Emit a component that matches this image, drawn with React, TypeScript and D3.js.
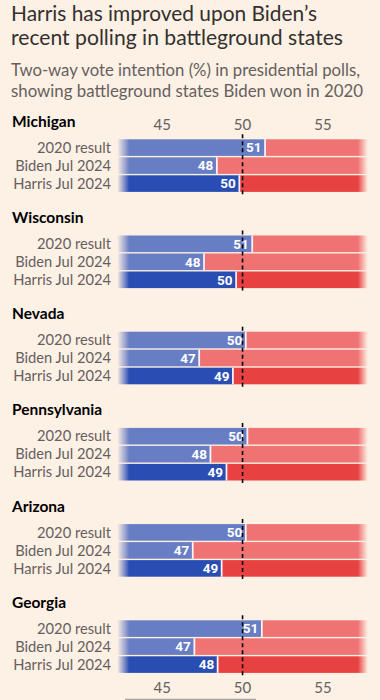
import React from "react";
import * as d3 from "d3";

const states = ["Michigan", "Wisconsin", "Nevada", "Pennsylvania", "Arizona", "Georgia"];
const rowLabels = ["2020 result", "Biden Jul 2024", "Harris Jul 2024"];
const result2020 = [51.4, 50.6, 50.2, 50.3, 50.2, 51.2];
const bidenJul = [48.4, 47.6, 47.3, 48.0, 46.9, 47.0];
const harrisJul = [49.8, 49.6, 49.4, 49.0, 48.7, 48.45];
const tickValues = [45, 50, 55];
const domain = [42.2, 57.8];

const W = 380;
const H = 700;

export default function App() {
  const x = d3.scaleLinear().domain([45, 55]).range([162.2, 322.9]);
  const x0 = x(domain[0]);
  const x1 = x(domain[1]);
  const panelY = d3.scaleLinear().domain([0, 1]).range([139.3, 235.5]);
  const rowH = 18;
  const barH = 16.6;
  const series = [result2020, bidenJul, harrisJul];
  const blue = ["#687ec4", "#687ec4", "#2a4db3"];
  const red = ["#f07373", "#f07373", "#e84141"];
  const font = "Lato, sans-serif";
  const textCol = "#33302e";
  const greyCol = "#66605c";

  return (
    <svg
      width={W}
      height={H}
      style={{ position: "absolute", left: 0, top: 0, background: "#fdf0e5" }}
      fontFamily={font}
    >
      <defs>
        <linearGradient id="fade" gradientUnits="userSpaceOnUse" x1={x0} x2={x1} y1={0} y2={0}>
          <stop offset="0" stopColor="#fff" stopOpacity="0" />
          <stop offset={(12 / (x1 - x0)).toString()} stopColor="#fff" stopOpacity="1" />
          <stop offset={(1 - 10 / (x1 - x0)).toString()} stopColor="#fff" stopOpacity="1" />
          <stop offset="1" stopColor="#fff" stopOpacity="0" />
        </linearGradient>
        <mask id="fadeMask" maskUnits="userSpaceOnUse" x={0} y={0} width={W} height={H}>
          <rect x={x0} y={0} width={x1 - x0} height={H} fill="url(#fade)" />
        </mask>
      </defs>
      <rect width={W} height={H} fill="#fdf0e5" />
      <text x={11} y={21} fontSize={21} fill={textCol} textLength={306} lengthAdjust="spacingAndGlyphs">Harris has improved upon Biden’s</text>
      <text x={11} y={45} fontSize={21} fill={textCol} textLength={332} lengthAdjust="spacingAndGlyphs">recent polling in battleground states</text>
      <text x={11} y={76} fontSize={16.3} fill={greyCol} textLength={349} lengthAdjust="spacingAndGlyphs">Two-way vote intention (%) in presidential polls,</text>
      <text x={11} y={97} fontSize={16.3} fill={greyCol} textLength={352} lengthAdjust="spacingAndGlyphs">showing battleground states Biden won in 2020</text>

      {tickValues.map((t) => (
        <text key={"tt" + t} x={x(t)} y={130} fontSize={15} fill={greyCol} textAnchor="middle">
          {t}
        </text>
      ))}
      {tickValues.map((t) => (
        <text key={"bt" + t} x={x(t)} y={693} fontSize={15} fill={greyCol} textAnchor="middle">
          {t}
        </text>
      ))}

      {states.map((s, i) => {
        const top = panelY(i);
        return (
          <g key={s}>
            <text x={12} y={top - 12.5} fontSize={15.5} fontWeight="bold" fill="#000">
              {s}
            </text>
            <g mask="url(#fadeMask)">
              {series.map((ser, r) => {
                const y = top + r * rowH;
                const v = ser[i];
                return (
                  <g key={r}>
                    <rect x={x0} y={y} width={x(v) - x0} height={barH} fill={blue[r]} />
                    <rect x={x(v)} y={y} width={x1 - x(v)} height={barH} fill={red[r]} />
                    <line x1={x(v)} x2={x(v)} y1={y} y2={y + barH} stroke="#fff" strokeWidth={1.8} opacity={0.9} />
                  </g>
                );
              })}
            </g>
            {series.map((ser, r) => {
              const y = top + r * rowH;
              const v = ser[i];
              return (
                <g key={"l" + r}>
                  <text x={111} y={y + barH / 2 + 5.2} fontSize={14.7} fill={greyCol} textAnchor="end">
                    {rowLabels[r]}
                  </text>
                  <text
                    x={x(v) - 3.5}
                    y={y + barH / 2 + 4.8}
                    fontSize={13.5}
                    fontWeight="bold"
                    fill="#fff"
                    textAnchor="end"
                    fontFamily="Roboto, sans-serif"
                  >
                    {Math.round(v)}
                  </text>
                </g>
              );
            })}
            <line
              x1={x(50)}
              x2={x(50)}
              y1={top - 5}
              y2={top + 2 * rowH + barH + 4}
              stroke="#000"
              strokeWidth={1.6}
              strokeDasharray="4,3"
            />
          </g>
        );
      })}
      <line x1={125} x2={256} y1={699.5} y2={699.5} stroke="#a8a4a0" strokeWidth={1.5} />
    </svg>
  );
}
